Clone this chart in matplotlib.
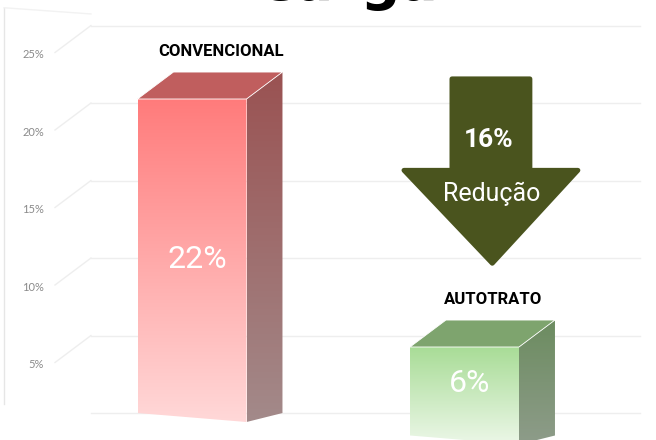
import numpy as np
import matplotlib
matplotlib.use("Agg")
import matplotlib.pyplot as plt
from matplotlib.patches import Polygon
from matplotlib.colors import LinearSegmentedColormap

# data
categories = ["CONVENCIONAL", "AUTOTRATO"]
values = [22, 6]
value_labels = ["22%", "6%"]
ticks = [0, 5, 10, 15, 20, 25]
tick_labels = ["", "5%", "10%", "15%", "20%", "25%"]
reduction_label = "16%"
reduction_text = "Redução"
title = "Carga"

# colours: front top, front bottom, side top, side bottom, top face
bar_colors = [
    ("#ff7b7b", "#ffd8d8", "#9a5252", "#a38a8a", "#c05e5e"),
    ("#a8dc96", "#ecf7e8", "#6c8c60", "#8e9c8a", "#7ea46e"),
]
arrow_color = "#4a541e"

PX_X = 272.5   # px per category step
PX_Y = 15.5    # px per percent
W, H = 656, 440
BAR_W = 0.40
DX, DY = 0.132, 1.74      # depth of the 3d box (top)
DY_BOT = 0.58             # depth at the floor

fig = plt.figure(figsize=(6.56, 4.4), dpi=100)
ax = fig.add_axes([0, 0, 1, 1])
ax.axis("off")
x_lo, x_hi = -192 / PX_X, (W - 192) / PX_X
y_lo, y_hi = 0, H / PX_Y

def floor(x):
    # front edge of the floor, slightly tilted
    return 1.74 - 1.45 * (x + 0.2)

# walls + gridlines
wall_front = x_lo + 55 / PX_X
wall_back = wall_front + DX
grid_end = x_lo + 640 / PX_X
for t, lab in zip(ticks, tick_labels):
    if t > 0:
        ax.plot([wall_front, wall_back], [t, t + DY], color="#eeeeee", lw=1, zorder=1)
    ax.plot([wall_back, grid_end], [t + DY, t + DY], color="#eeeeee", lw=1, zorder=1)
    if lab:
        ax.text(wall_front - 11 / PX_X, t - 0.15, lab, ha="right", va="center",
                fontsize=8, color="#8a8a8a", family="Lato")
ax.plot([x_lo + 4 / PX_X] * 2, [2.3, y_hi - 0.5], color="#e6e6e6", lw=1, zorder=1)
ax.plot([x_lo + 4 / PX_X, wall_back], [y_hi - 0.5, y_hi - 0.9], color="#f2f2f2", lw=1, zorder=1)

def grad_fill(poly_xy, c_top, c_bot, zorder):
    poly = Polygon(poly_xy, closed=True, facecolor="none", edgecolor="none")
    ax.add_patch(poly)
    xs = [p[0] for p in poly_xy]
    ys = [p[1] for p in poly_xy]
    cmap = LinearSegmentedColormap.from_list("g", [c_bot, c_top])
    grad = np.linspace(1, 0, 256).reshape(-1, 1)
    im = ax.imshow(grad, extent=[min(xs), max(xs), min(ys), max(ys)], cmap=cmap,
                   aspect="auto", zorder=zorder, interpolation="bicubic", vmin=0, vmax=1)
    im.set_clip_path(poly)

for i, (cat, v) in enumerate(zip(categories, values)):
    ft, fb, st, sb, tc = bar_colors[i]
    l, r = i - BAR_W / 2, i + BAR_W / 2
    bl, br = floor(l), floor(r)
    # front
    grad_fill([(l, bl), (r, br), (r, v), (l, v)], ft, fb, 3)
    # side
    grad_fill([(r, br), (r + DX, br + DY_BOT), (r + DX, v + DY), (r, v)], st, sb, 3)
    # top
    ax.add_patch(Polygon([(l, v), (r, v), (r + DX, v + DY), (l + DX, v + DY)],
                         closed=True, facecolor=tc, edgecolor="#ffffff", lw=0.6, zorder=4))
    ax.text(i + 0.02, v / 2 + 0.65, value_labels[i], ha="center", va="center",
            fontsize=23, color="white", family="Roboto", zorder=5)
    ax.text(i + 0.105, v + DY + 1.3, cat, ha="center", va="center",
            fontsize=12, fontweight="bold", color="black", family="Roboto", zorder=5)

# reduction arrow between the two bars
ac = 1.097
a_top = values[0] + 1.3
a_neck = values[0] - 4.6
a_tip = 11.4
sw, hw = 39 / PX_X, 87 / PX_X
arrow = Polygon([(ac - sw, a_top), (ac + sw, a_top), (ac + sw, a_neck), (ac + hw, a_neck),
                 (ac + 0.005, a_tip), (ac - hw, a_neck), (ac - sw, a_neck)],
                closed=True, facecolor=arrow_color, edgecolor=arrow_color, lw=3.5,
                joinstyle="round", zorder=4)
ax.add_patch(arrow)
ax.text(ac - 0.01, a_top - 3.95, reduction_label, ha="center", va="center", fontsize=19,
        fontweight="bold", color="white", family="Roboto", zorder=5)
ax.text(ac + 0.003, a_neck - 1.5, reduction_text, ha="center", va="center", fontsize=18,
        color="white", family="Roboto", zorder=5)

ax.set_xlim(x_lo, x_hi)
ax.set_ylim(y_lo, y_hi)

fig.text(0.529, 1 + 0.5 / H, title, ha="center", va="baseline", fontsize=40,
         fontweight="bold", family="DejaVu Sans")

fig.savefig("out.png", dpi=100, facecolor="white")
